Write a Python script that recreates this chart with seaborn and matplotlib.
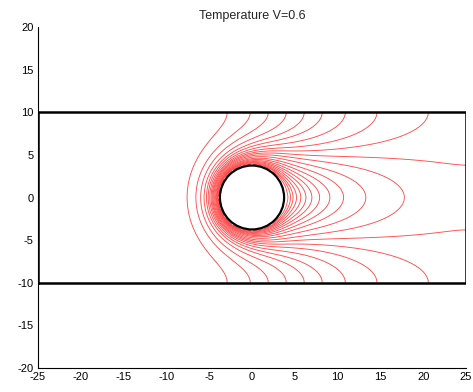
import numpy as np
import matplotlib
matplotlib.use("Agg")
import matplotlib.pyplot as plt
import seaborn as sns
from matplotlib.patches import Circle

# ---------------- values ----------------
title_text = "Temperature V=0.6"
V = 0.6                      # flow speed (from the title)
R_CYL = 3.75                 # cylinder radius
ALPHA = 1.1                  # diffusivity of the field
x_domain = [-25, 25]
y_domain = [-10, 10]
x_ticks = [-25, -20, -15, -10, -5, 0, 5, 10, 15, 20, 25]
y_ticks = [-20, -15, -10, -5, 0, 5, 10, 15, 20]
# where the isotherms cross the top wall (y = 10)
wall_cross_x = [-2.9, -0.2, 1.9, 4.0, 6.1, 8.2, 10.9, 14.6, 20.6]
# where an isotherm leaves through the right edge (x = 25)
edge_cross_y = [3.8]
# tips of the closed isotherm loops on the wake axis (y = 0)
wake_tip_x = [17.8, 13.3, 10.7, 9.1, 7.9, 7.0, 6.3, 5.7, 5.2, 4.8, 4.5, 4.2]

# ------------- temperature field: heated cylinder in a channel flow -------------
H = 0.25
x = np.arange(x_domain[0], x_domain[1] + H / 2, H)
y = np.arange(y_domain[0], y_domain[1] + H / 2, H)
X, Y = np.meshgrid(x, y)
ny, nx = X.shape
cyl = X**2 + Y**2 <= R_CYL**2

# potential flow past the cylinder, walls represented by image doublets
U = np.full_like(X, V)
W = np.zeros_like(X)
hgt = y_domain[1] - y_domain[0]
for k in range(-8, 9):
    dy = Y - k * hgt
    r2 = np.maximum(X**2 + dy**2, 1e-6)
    U -= V * R_CYL**2 * (X**2 - dy**2) / r2**2
    W -= V * R_CYL**2 * 2 * X * dy / r2**2

d = ALPHA / H**2
aE = d - U / (2 * H); aW = d + U / (2 * H)
aN = d - W / (2 * H); aS = d + W / (2 * H)
aP = 4 * d
fixed = cyl.copy(); fixed[:, 0] = True
ii, jj = np.indices((ny, nx))
red = ((ii + jj) % 2 == 0)
masks = [red & ~fixed, ~red & ~fixed]
T = np.zeros((ny + 2, nx + 2))
T[1:-1, 1:-1][cyl] = 1.0
omega = 1.9
for it in range(5000):
    for m in masks:
        Tc = T[1:-1, 1:-1]
        gs = (aE * T[1:-1, 2:] + aW * T[1:-1, :-2] + aN * T[2:, 1:-1] + aS * T[:-2, 1:-1]) / aP
        T[1:-1, 1:-1] = np.where(m, Tc + omega * (gs - Tc), Tc)
        T[0, :] = T[2, :]; T[-1, :] = T[-3, :]; T[:, -1] = T[:, -3]
TF = T[1:-1, 1:-1].copy()

def field_at(px, py):
    fi = (py - y[0]) / H; fj = (px - x[0]) / H
    i0 = int(min(max(np.floor(fi), 0), ny - 2)); j0 = int(min(max(np.floor(fj), 0), nx - 2))
    ti = fi - i0; tj = fj - j0
    return ((1 - ti) * (1 - tj) * TF[i0, j0] + (1 - ti) * tj * TF[i0, j0 + 1]
            + ti * (1 - tj) * TF[i0 + 1, j0] + ti * tj * TF[i0 + 1, j0 + 1])

levels = ([field_at(v, y_domain[1]) for v in wall_cross_x]
          + [field_at(x_domain[1], v) for v in edge_cross_y]
          + [field_at(v, 0.0) for v in wake_tip_x])
levels = np.unique(np.round(levels, 6))
TF_plot = np.where(cyl, np.nan, TF)

# ---------------- drawing ----------------
sns.set_style("white")
plt.rcParams['font.family'] = ['Liberation Sans', 'DejaVu Sans']
plt.rcParams['axes.unicode_minus'] = False
fig = plt.figure(figsize=(4.73, 3.92), dpi=100)
ax = fig.add_axes([38 / 473, 24 / 392, 428 / 473, 341 / 392])
ax.contour(X, Y, TF_plot, levels=levels, colors='#ff3b3b', linewidths=0.65, alpha=0.9)
ax.add_patch(Circle((0, 0), R_CYL, facecolor='white', edgecolor='black', lw=1.6, zorder=3))
bx = [x_domain[0], x_domain[1], x_domain[1], x_domain[0], x_domain[0]]
by = [y_domain[0], y_domain[0], y_domain[1], y_domain[1], y_domain[0]]
sns.lineplot(x=bx, y=by, sort=False, color='black', lw=1.8, ax=ax, zorder=4, estimator=None)
ax.set_xlim(x_ticks[0], x_ticks[-1]); ax.set_ylim(y_ticks[0], y_ticks[-1])
ax.set_xticks(x_ticks); ax.set_yticks(y_ticks)
ax.tick_params(direction='in', length=4, width=0.8, labelsize=8, pad=3, colors='black')
for s in ['top', 'right']:
    ax.spines[s].set_visible(False)
for s in ['left', 'bottom']:
    ax.spines[s].set_color('black'); ax.spines[s].set_linewidth(0.8)
ax.set_title(title_text, fontsize=9, pad=6)
fig.savefig("out.png", dpi=100)
